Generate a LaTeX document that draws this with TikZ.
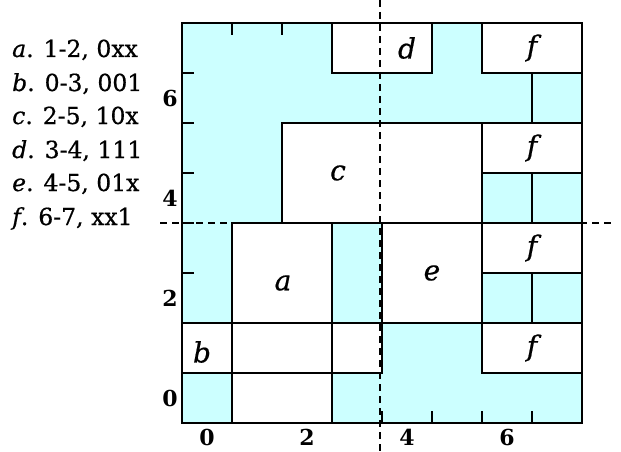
\documentclass[tikz,border=0pt]{standalone}
\usepackage{fontspec}
\setmainfont{DejaVu Serif}
\newfontfamily\listfont{DejaVu Serif}[FakeBold=0.6]
\definecolor{cyanbg}{RGB}{204,255,255}
\tikzset{
  cellbox/.style={line width=1.6pt},
  whitefill/.style={fill=white},
  frame/.style={line width=2.2pt},
  tickmark/.style={line width=1.8pt},
  divider/.style={line width=2.4pt, dash pattern=on 7pt off 5pt},
  listtxt/.style={anchor=base west, inner sep=0pt, font=\listfont\fontsize{23.5}{27}\selectfont},
  axislbl/.style={inner sep=0pt, font=\fontsize{22}{26}\selectfont\bfseries},
  boxlbl/.style={inner sep=0pt, font=\listfont\fontsize{28}{32}\selectfont\itshape}
}
\begin{document}
\begin{tikzpicture}[x=1pt,y=-1pt]
\useasboundingbox (0,0) rectangle (621,452);
% legend
\node[listtxt] (la) at (12,57)  {\textit{a}. 1-2, 0xx};
\node[listtxt] (lb) at (12,91)  {\textit{b}. 0-3, 001};
\node[listtxt] (lc) at (12,124) {\textit{c}. 2-5, 10x};
\node[listtxt] (ld) at (12,158) {\textit{d}. 3-4, 111};
\node[listtxt] (le) at (12,191) {\textit{e}. 4-5, 01x};
\node[listtxt] (lf) at (12,225) {\textit{f}. 6-7, xx1};
\begin{scope}[shift={(182pt,-423pt)}, x=50pt, y=50pt]
  \fill[cyanbg] (0,0) rectangle (8,8);
  % ticks
  \foreach \k in {1,...,7} {
    \draw[tickmark] (0,\k) -- ++(0.24,0);
    \draw[tickmark] (\k,0) -- ++(0,0.24);
    \draw[tickmark] (\k,8) -- ++(0,-0.24);
  }
  \draw[cellbox] (7,2) -- (7,7);
  % white fills
  \foreach \ax/\ay/\bx/\by in {1/0/3/4, 0/1/4/2, 2/4/6/6, 3/7/5/8, 4/2/6/4, 6/7/8/8, 6/5/8/6, 6/3/8/4, 6/1/8/2}
    \fill[whitefill] (\ax,\ay) rectangle (\bx,\by);
  % borders
  \foreach \ax/\ay/\bx/\by in {1/0/3/4, 0/1/4/2, 2/4/6/6, 3/7/5/8, 4/2/6/4, 6/7/8/8, 6/5/8/6, 6/3/8/4, 6/1/8/2}
    \draw[cellbox] (\ax,\ay) rectangle (\bx,\by);
  \draw[frame] (0,0) rectangle (8,8);
  % dashed dividers
  \coordinate (vtop) at (3.96,8.46);
  \coordinate (vbot) at (3.96,-0.58);
  \coordinate (hl) at (-0.44,4);
  \coordinate (hr) at (8.6,4);
  \draw[divider] (vtop) -- (vbot);
  \draw[divider] (hl) -- (hr);
  % box labels
  \node[boxlbl] (ta) at (2.02,2.8) {a};
  \node[boxlbl] (tb) at (0.4,1.42) {b};
  \node[boxlbl] (tc) at (3.12,5) {c};
  \node[boxlbl] (td) at (4.5,7.5) {d};
  \node[boxlbl] (te) at (5,3) {e};
  \node[boxlbl] (tf1) at (7,7.5) {f};
  \node[boxlbl] (tf2) at (7,5.5) {f};
  \node[boxlbl] (tf3) at (7,3.5) {f};
  \node[boxlbl] (tf4) at (7,1.5) {f};
  % axis labels
  \foreach \v in {0,2,4,6} {
    \node[axislbl] (y\v) at (-0.24,\v+0.5) {\v};
    \node[axislbl] (x\v) at (\v+0.5,-0.28) {\v};
  }
\end{scope}
\end{tikzpicture}
\end{document}
